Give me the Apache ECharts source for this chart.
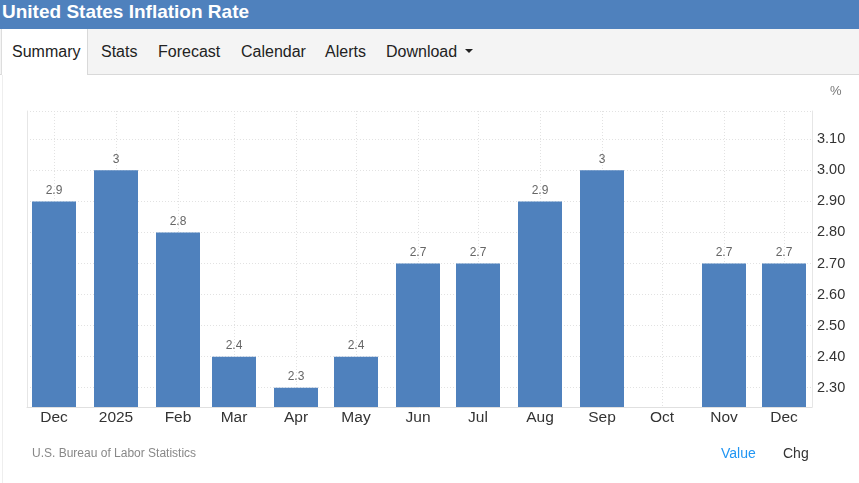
<!DOCTYPE html>
<html>
<head>
<meta charset="utf-8">
<script src="https://cdn.jsdelivr.net/npm/echarts@6/dist/echarts.min.js"></script>
<style>
  html, body { margin: 0; padding: 0; background: #fff; }
  body { width: 859px; height: 483px; position: relative; overflow: hidden; font-family: "Liberation Sans", Arial, Helvetica, sans-serif; }
  #container { position: absolute; left: 0; top: 0; width: 859px; height: 483px; }
  .titlebar { position: absolute; left: 0; top: 0; width: 859px; height: 29px; background: #4f81bd; color: #fff; font-weight: bold; font-size: 19px; line-height: 24px; padding-left: 2px; box-sizing: border-box; }
  .tabs { position: absolute; left: 0; top: 29px; width: 859px; height: 45px; background: #f4f4f4; border-bottom: 1px solid #d9d9d9; }
  .tab { position: absolute; top: 0; height: 45px; line-height: 46px; font-size: 16px; color: #222; }
  .tab.active { background: #fff; border-left: 1px solid #ddd; border-right: 1px solid #d9d9d9; height: 46px; }
  .caret { display: inline-block; width: 0; height: 0; border-left: 4px solid transparent; border-right: 4px solid transparent; border-top: 4px solid #222; vertical-align: middle; margin-left: 8px; margin-top: -3px; }
  .panel { position: absolute; left: 2px; top: 75px; width: 1px; height: 408px; background: #eee; }
</style>
</head>
<body>
<div id="container"></div>
<div class="titlebar">United States Inflation Rate</div>
<div class="tabs">
  <div class="tab active" style="left:1px;width:87px;padding-left:10px;box-sizing:border-box;">Summary</div>
  <div class="tab" style="left:101px;">Stats</div>
  <div class="tab" style="left:158px;">Forecast</div>
  <div class="tab" style="left:241px;">Calendar</div>
  <div class="tab" style="left:325px;">Alerts</div>
  <div class="tab" style="left:386px;">Download<span class="caret"></span></div>
</div>
<div class="panel"></div>
<script>
var months = ['2024-12-01', '2025-01-01', '2025-02-01', '2025-03-01', '2025-04-01', '2025-05-01',
              '2025-06-01', '2025-07-01', '2025-08-01', '2025-09-01', '2025-10-01', '2025-11-01', '2025-12-01'];
var values = [2.9, 3.0, 2.8, 2.4, 2.3, 2.4, 2.7, 2.7, 2.9, 3.0, null, 2.7, 2.7];
var monthNames = ['Jan', 'Feb', 'Mar', 'Apr', 'May', 'Jun', 'Jul', 'Aug', 'Sep', 'Oct', 'Nov', 'Dec'];

var DAY = 86400000;
var yMin = 2.238, yMax = 3.191;
var seriesData = months.map(function (m, i) {
    return [m, values[i] == null ? '-' : values[i]];
});

var dom = document.getElementById('container');
var myChart = echarts.init(dom);

// echarts widens a time axis by half a bar on each side, so min/max sit a little inside
option = {
    useUTC: true,
    animation: false,
    grid: { left: 27, right: 47, top: 111, bottom: 76 },
    xAxis: {
        type: 'time',
        min: Date.UTC(2024, 11, 1) - 2.5 * DAY,
        max: Date.UTC(2025, 11, 1) + 3 * DAY,
        splitNumber: 14,
        minInterval: 28 * DAY,
        maxInterval: 31 * DAY,
        axisLine: { show: true, lineStyle: { color: '#e0e0e0', width: 1 } },
        axisTick: { show: false },
        axisLabel: {
            color: '#333',
            fontSize: 15.5,
            fontFamily: 'Liberation Sans',
            margin: 3,
            showMinLabel: false,
            showMaxLabel: false,
            formatter: function (val) {
                var d = new Date(val);
                if (d.getUTCDate() !== 1) return '';
                var mo = d.getUTCMonth();
                return mo === 0 ? String(d.getUTCFullYear()) : monthNames[mo];
            }
        },
        splitLine: { show: true, lineStyle: { color: '#e2e2e2', type: [1, 2] } }
    },
    yAxis: [{
        type: 'value',
        position: 'right',
        min: yMin,
        max: yMax,
        splitNumber: 9,
        axisLine: { show: true, lineStyle: { color: '#e6e6e6' } },
        axisTick: { show: false },
        axisLabel: {
            color: '#333',
            fontSize: 14.5,
            fontFamily: 'Liberation Sans',
            margin: 5,
            padding: [0, 0, 4, 0],
            showMinLabel: false,
            showMaxLabel: false,
            formatter: function (v) {
                var r = Math.round(v * 10) / 10;
                if (Math.abs(v - r) > 0.001) return '';
                return r.toFixed(2);
            }
        },
        splitLine: { show: true, lineStyle: { color: '#e2e2e2', type: [1, 2] } }
    }, {
        type: 'value',
        position: 'left',
        min: yMin,
        max: yMax,
        axisLine: { show: true, lineStyle: { color: '#e6e6e6' } },
        axisTick: { show: false },
        axisLabel: { show: false },
        splitLine: { show: false }
    }],
    series: [{
        type: 'bar',
        data: seriesData,
        barWidth: 44,
        itemStyle: { color: '#4f81bd' },
        label: {
            show: true,
            position: 'top',
            distance: 5,
            color: '#666',
            fontSize: 12,
            fontFamily: 'Liberation Sans'
        }
    }],
    graphic: [
        { type: 'text', left: 830, top: 85, style: { text: '%', fill: '#777', fontSize: 13, fontFamily: 'Liberation Sans' } },
        { type: 'text', left: 32, top: 448, style: { text: 'U.S. Bureau of Labor Statistics', fill: '#888', fontSize: 12, fontFamily: 'Liberation Sans' } },
        { type: 'text', left: 721, top: 447, style: { text: 'Value', fill: '#2196f3', fontSize: 14, fontFamily: 'Liberation Sans' } },
        { type: 'text', left: 783, top: 447, style: { text: 'Chg', fill: '#333', fontSize: 14, fontFamily: 'Liberation Sans' } }
    ]
};
myChart.setOption(option, true);
</script>
</body>
</html>
